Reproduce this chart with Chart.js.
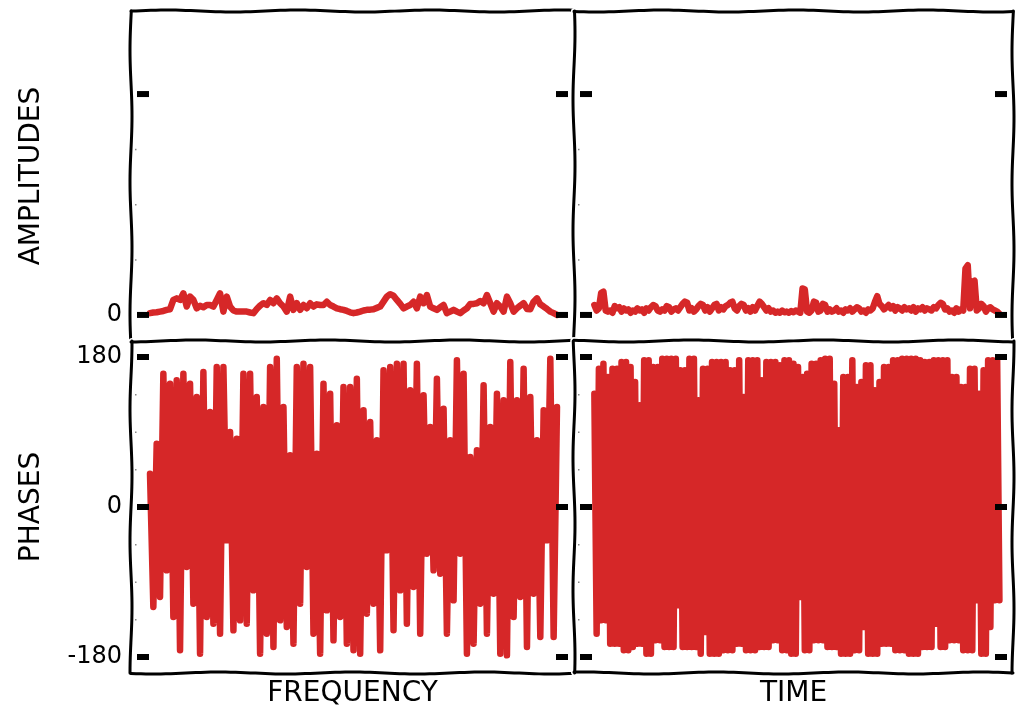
<!DOCTYPE html>
<html>
<head>
<meta charset="utf-8">
<title>Amplitudes and phases</title>
<script src="https://cdn.jsdelivr.net/npm/chart.js@4.4.1/dist/chart.umd.min.js"></script>
<style>
  html, body { margin: 0; padding: 0; background: #fff; }
  #wrap { position: relative; width: 1016px; height: 712px; }
  #wrap canvas { position: absolute; left: 0; top: 0; }
</style>
</head>
<body>
<div id="wrap">
  <canvas id="amp_freq" width="1016" height="712"></canvas>
  <canvas id="amp_time" width="1016" height="712"></canvas>
  <canvas id="phase_freq" width="1016" height="712"></canvas>
  <canvas id="phase_time" width="1016" height="712"></canvas>
</div>
<script>
// amplitude spectrum (one value per frequency bin)
const ampFreq = [
  .008, .011, .012, .015, .018, .023, .026, .068, .075, .068,
  .098, .038, .083, .068, .030, .041, .035, .045, .045, .038,
  .068, .098, .015, .083, .038, .020, .015, .015, .015, .015,
  .011, .008, .027, .042, .053, .045, .068, .053, .075, .053,
  .038, .015, .083, .023, .053, .023, .045, .030, .053, .038,
  .048, .045, .045, .060, .045, .038, .030, .026, .023, .018,
  .012, .008, .011, .015, .020, .023, .024, .026, .032, .038,
  .060, .083, .094, .087, .068, .050, .030, .038, .045, .060,
  .030, .083, .053, .090, .038, .030, .023, .035, .045, .008,
  .015, .023, .015, .008, .020, .030, .050, .050, .053, .063,
  .053, .090, .053, .015, .053, .038, .015, .083, .053, .015,
  .030, .042, .053, .027, .026, .060, .075, .048, .038, .027,
  .015, .008, .000
];

// phase spectrum in degrees
const phaseFreq = [
  40, -120, 76, -108, 160, -76, 148, -132, 152, -172,
  160, -72, 148, -116, 132, -176, 162, -132, 114, -140,
  168, -152, 168, -40, 90, -148, 82, -136, 160, -140,
  160, -100, 132, -176, 120, -152, 168, -168, 178, -136,
  120, -144, 62, -164, 168, -116, 172, -72, 168, -152,
  64, -176, 148, -124, 136, -160, 98, -132, 144, -164,
  144, -172, 154, -176, 116, -128, 102, -116, 80, -172,
  164, -52, 168, -148, 172, -100, 172, -140, 140, -96,
  172, -152, 134, -56, 96, -76, 154, -80, 118, -152,
  80, -112, 176, -56, 160, -176, 60, -164, 68, -116,
  146, -152, 96, -104, 136, -176, 128, -178, 174, -132,
  128, -108, 166, -168, 132, -104, 80, -156, 116, -40,
  178, -156, 120
];

// amplitude over time
const ampTime = [
  0.045, 0.02, 0.03, 0.10, 0.105, 0.02, 0.015, 0.02, 0.01, 0.04,
  0.03, 0.035, 0.015, 0.03, 0.02, 0.025, 0.01, 0.02, 0.015, 0.03,
  0.02, 0.025, 0.01, 0.03, 0.02, 0.035, 0.045, 0.04, 0.02, 0.015,
  0.025, 0.02, 0.04, 0.035, 0.015, 0.025, 0.03, 0.02, 0.035, 0.05,
  0.06, 0.055, 0.02, 0.03, 0.015, 0.025, 0.04, 0.05, 0.045, 0.02,
  0.035, 0.015, 0.03, 0.045, 0.05, 0.02, 0.035, 0.025, 0.04, 0.045,
  0.055, 0.06, 0.03, 0.02, 0.04, 0.05, 0.045, 0.02, 0.03, 0.015,
  0.035, 0.02, 0.04, 0.06, 0.05, 0.035, 0.02, 0.03, 0.015, 0.02,
  0.01, 0.015, 0.01, 0.02, 0.012, 0.015, 0.01, 0.018, 0.012, 0.02,
  0.015, 0.01, 0.12, 0.115, 0.015, 0.01, 0.02, 0.06, 0.055, 0.015,
  0.02, 0.05, 0.045, 0.015, 0.025, 0.015, 0.02, 0.03, 0.015, 0.02,
  0.01, 0.025, 0.02, 0.03, 0.015, 0.025, 0.035, 0.03, 0.015, 0.02,
  0.01, 0.025, 0.02, 0.03, 0.06, 0.085, 0.05, 0.04, 0.025, 0.035,
  0.045, 0.03, 0.04, 0.02, 0.035, 0.03, 0.02, 0.035, 0.025, 0.03,
  0.02, 0.035, 0.015, 0.03, 0.025, 0.035, 0.02, 0.03, 0.025, 0.02,
  0.035, 0.03, 0.045, 0.055, 0.05, 0.025, 0.03, 0.015, 0.02, 0.01,
  0.03, 0.015, 0.025, 0.02, 0.21, 0.225, 0.03, 0.15, 0.155, 0.02,
  0.03, 0.05, 0.04, 0.015, 0.03, 0.035, 0.025, 0.02, 0.015, 0.005
];

// phase over time in degrees
const phaseTime = [
  136, -152, 166, -136, 172, -136, 156, -164, 166, -164,
  166, -164, 174, -172, 174, -172, 168, -168, 150, -164,
  122, -164, 176, -176, 176, -176, 168, -160, 168, -160,
  178, -168, 178, -168, 178, -168, 178, -118, 164, -168,
  164, -168, 178, -168, 178, -168, 128, -176, 166, -150,
  166, -176, 174, -176, 174, -176, 174, -172, 174, -172,
  164, -172, 164, -164, 176, -164, 132, -172, 176, -172,
  176, -172, 176, -168, 152, -168, 174, -168, 174, -160,
  174, -160, 170, -172, 176, -172, 176, -176, 172, -176,
  168, -108, 156, -172, 160, -172, 172, -160, 172, -160,
  176, -160, 178, -168, 178, -168, 148, -168, 92, -176,
  156, -176, 156, -176, 176, -172, 144, -172, 150, -144,
  170, -176, 170, -176, 140, -176, 150, -164, 168, -164,
  168, -164, 176, -172, 176, -172, 178, -172, 178, -176,
  178, -176, 178, -176, 176, -168, 174, -168, 174, -168,
  176, -140, 176, -168, 176, -168, 176, -160, 156, -160,
  156, -160, 144, -172, 144, -172, 166, -172, 166, -112,
  136, -176, 164, -176, 176, -144, 176, -112, 176, -112
];

const ampTicks = [0, 1];
const ampTickLabels = ['0', ''];
const ampMinorTicks = [0.25, 0.5, 0.75];
const phaseTicks = [-180, 0, 180];
const phaseTickLabels = ['-180', '0', '180'];
const phaseMinorTicks = [-135, -90, -45, 45, 90, 135];

const RED = '#d62728';
const FONT = "'DejaVu Sans', 'Liberation Sans', sans-serif";

// little wobble so the frame looks hand drawn
// (phase comes from the end points, so a border shared by two panels wobbles the same way)
function sketchLine(ctx, x1, y1, x2, y2) {
  const len = Math.hypot(x2 - x1, y2 - y1);
  const n = Math.max(2, Math.round(len / 5));
  const nx = -(y2 - y1) / len, ny = (x2 - x1) / len;
  const seed = (x1 * 0.37 + y1 * 0.11 + x2 * 0.05) % 6.28;
  ctx.beginPath();
  for (let i = 0; i <= n; i++) {
    const t = i / n;
    const w = 1.0 * Math.sin(t * len / 21 + seed);
    const px = x1 + (x2 - x1) * t + nx * w;
    const py = y1 + (y2 - y1) * t + ny * w;
    if (i === 0) ctx.moveTo(px, py); else ctx.lineTo(px, py);
  }
  ctx.stroke();
}

const sketchFrame = {
  id: 'sketchFrame',
  afterDatasetsDraw(chart, args, opts) {
    const { ctx, chartArea: a } = chart;
    const ys = chart.scales.y;
    ctx.save();
    ctx.lineCap = 'round';
    const edges = [
      [a.left, a.top, a.right, a.top],
      [a.left, a.bottom, a.right, a.bottom],
      [a.left, a.top, a.left, a.bottom],
      [a.right, a.top, a.right, a.bottom]
    ];
    edges.forEach(e => {
      ctx.strokeStyle = '#fff';
      ctx.lineWidth = 6;
      sketchLine(ctx, e[0], e[1], e[2], e[3]);
    });
    edges.forEach(e => {
      ctx.strokeStyle = '#000';
      ctx.lineWidth = 3;
      sketchLine(ctx, e[0], e[1], e[2], e[3]);
    });

    // major ticks: short heavy dashes inside both sides
    ctx.fillStyle = '#000';
    opts.major.forEach(v => {
      const py = ys.getPixelForValue(v);
      ctx.fillRect(a.left + 6, py - 3, 12, 6);
      ctx.fillRect(a.right - 18, py - 3, 12, 6);
    });
    // minor ticks: tiny specks on the left side
    ctx.fillStyle = '#888';
    opts.minor.forEach(v => {
      const py = ys.getPixelForValue(v);
      ctx.fillRect(a.left + 4, py - 0.5, 1.5, 1.5);
    });
    ctx.restore();
  }
};

function toPoints(values) {
  return values.map((v, i) => ({ x: i, y: v }));
}

function makePanel(id, cfg) {
  return new Chart(document.getElementById(id), {
    type: 'line',
    data: {
      datasets: [{
        data: toPoints(cfg.values),
        borderColor: RED,
        borderWidth: 6.5,
        pointRadius: 0,
        tension: 0,
        borderJoinStyle: 'round',
        borderCapStyle: 'round'
      }]
    },
    options: {
      responsive: false,
      animation: false,
      events: [],
      layout: { padding: cfg.padding },
      plugins: {
        legend: { display: false },
        tooltip: { enabled: false },
        sketchFrame: { major: cfg.yTicks, minor: cfg.yMinor }
      },
      scales: {
        x: {
          type: 'linear',
          min: cfg.xMin,
          max: cfg.xMax,
          display: !!cfg.xTitle,
          grid: { display: false, drawTicks: false },
          border: { display: false },
          ticks: { display: false },
          title: {
            display: !!cfg.xTitle,
            text: cfg.xTitle,
            color: '#000',
            font: { family: FONT, size: 28 },
            padding: { top: 0, bottom: 1 }
          },
          afterFit: s => {
            if (cfg.xTitle) s.height = 39;
            s.paddingLeft = 0; s.paddingRight = 0;
          }
        },
        y: {
          min: cfg.yMin,
          max: cfg.yMax,
          display: !!cfg.yTitle,
          grid: { display: false, drawTicks: false },
          border: { display: false },
          afterBuildTicks: s => { s.ticks = cfg.yTicks.map(v => ({ value: v })); },
          ticks: {
            color: '#000',
            padding: 9,
            font: { family: FONT, size: 24 },
            callback: v => cfg.yLabels[cfg.yTicks.indexOf(v)]
          },
          title: {
            display: !!cfg.yTitle,
            text: cfg.yTitle,
            color: '#000',
            font: { family: FONT, size: 28 },
            padding: { top: 15, bottom: 0 }
          },
          afterFit: s => {
            if (cfg.yTitle) s.width = 131;
            s.paddingTop = 0; s.paddingBottom = 0;
          }
        }
      }
    },
    plugins: [sketchFrame]
  });
}

makePanel('amp_freq', {
  values: ampFreq, xMin: -5.7, xMax: 127.1,
  yMin: -0.118, yMax: 1.376, yTicks: ampTicks, yLabels: ampTickLabels, yMinor: ampMinorTicks,
  yTitle: 'AMPLITUDES',
  padding: { left: 0, right: 442, top: 11, bottom: 371 }
});
makePanel('amp_time', {
  values: ampTime, xMin: -9, xMax: 185,
  yMin: -0.118, yMax: 1.376, yTicks: ampTicks, yLabels: ampTickLabels, yMinor: ampMinorTicks,
  padding: { left: 574, right: 3, top: 11, bottom: 371 }
});
makePanel('phase_freq', {
  values: phaseFreq, xMin: -5.7, xMax: 127.1,
  yMin: -199.2, yMax: 199.2, yTicks: phaseTicks, yLabels: phaseTickLabels, yMinor: phaseMinorTicks,
  yTitle: 'PHASES', xTitle: 'FREQUENCY',
  padding: { left: 0, right: 442, top: 341, bottom: 0 }
});
makePanel('phase_time', {
  values: phaseTime, xMin: -9, xMax: 185,
  yMin: -199.2, yMax: 199.2, yTicks: phaseTicks, yLabels: phaseTickLabels, yMinor: phaseMinorTicks,
  xTitle: 'TIME',
  padding: { left: 574, right: 3, top: 341, bottom: 0 }
});
</script>
</body>
</html>
